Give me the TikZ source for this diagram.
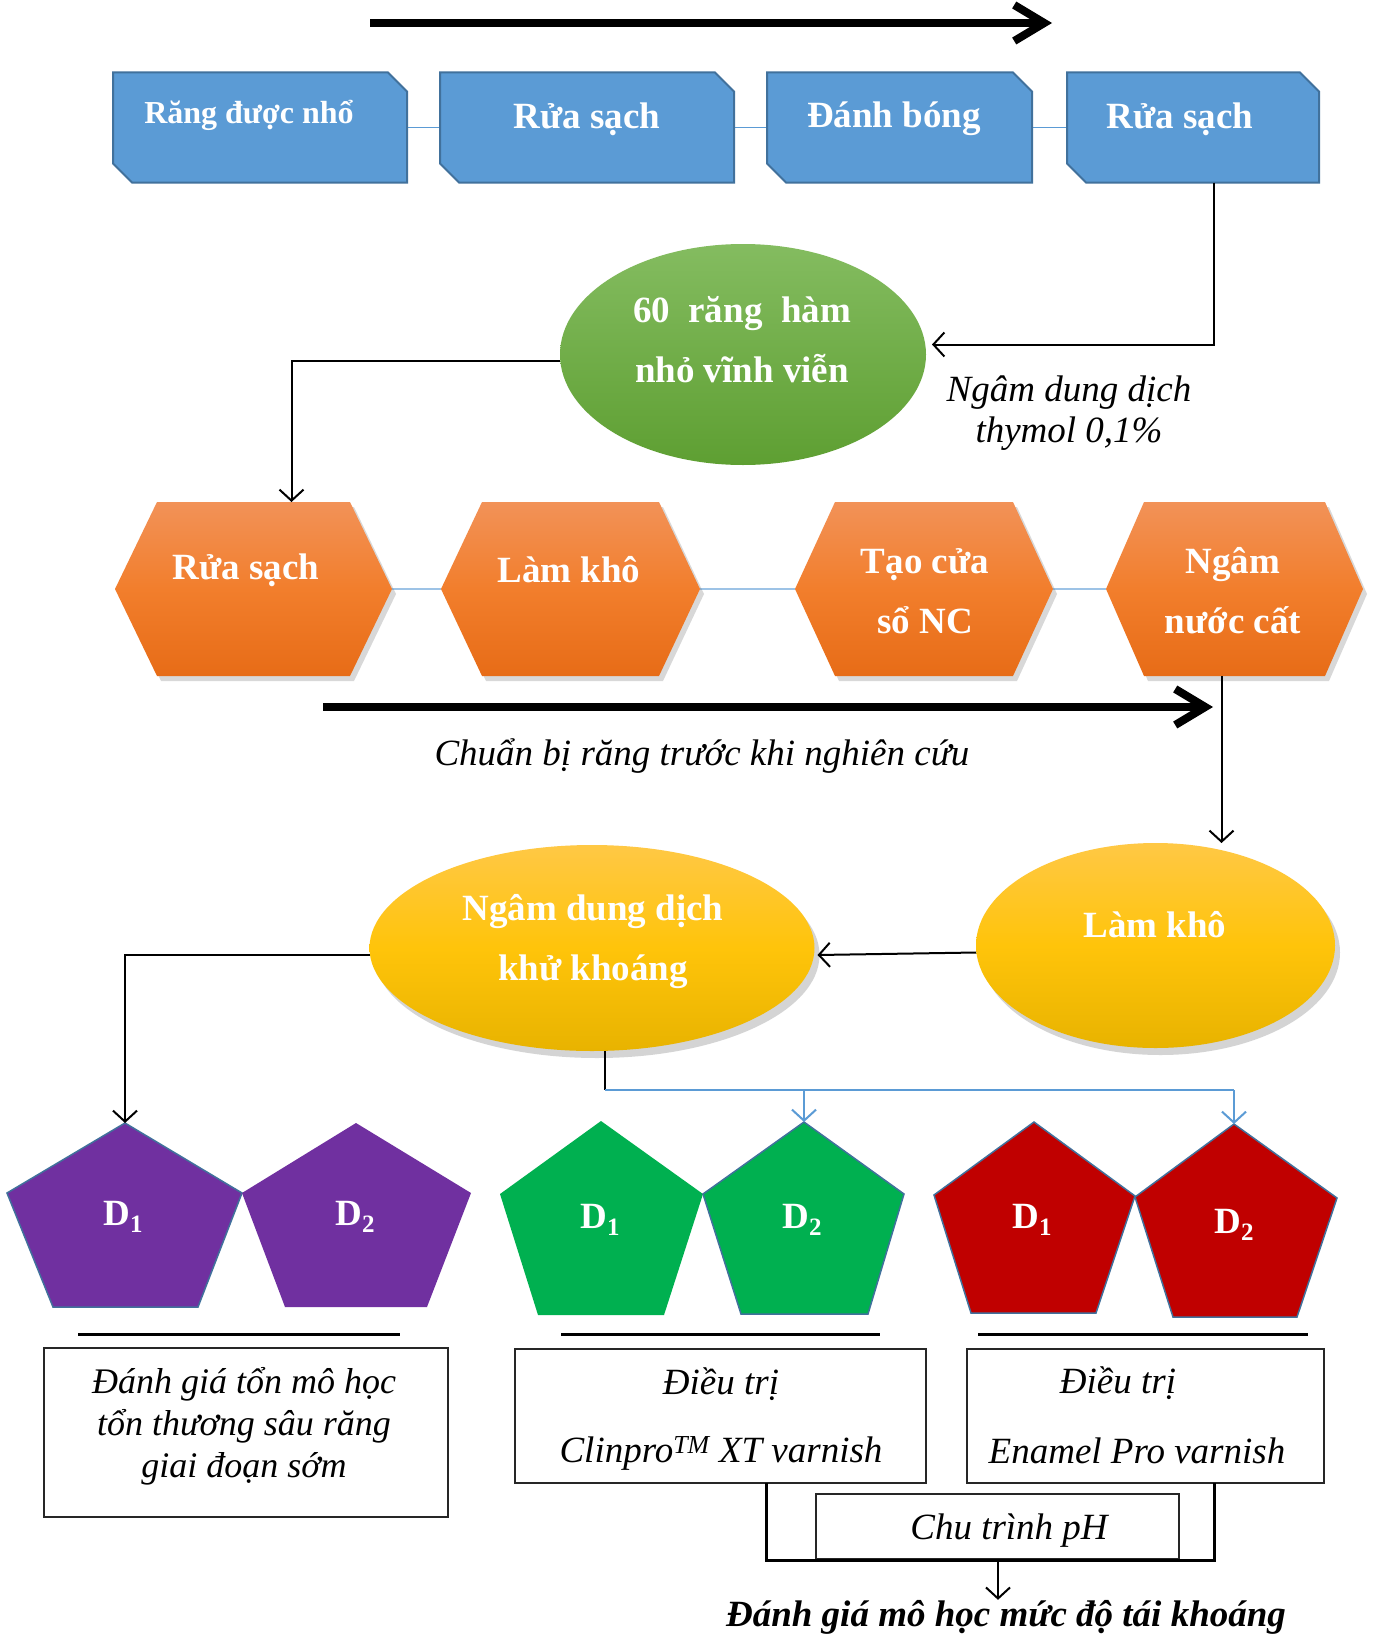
\documentclass[tikz,border=0pt]{standalone}
\usepackage{fontspec}
\setmainfont{Liberation Serif}
\usetikzlibrary{arrows.meta,shapes.geometric,shadows,calc}
\definecolor{boxblue}{HTML}{5B9BD5}
\definecolor{edgeblue}{HTML}{41719C}
\definecolor{lineblue}{HTML}{5B9BD5}
\definecolor{hexline}{HTML}{9DC3E6}
\definecolor{gtop}{HTML}{84BC60}
\definecolor{gbot}{HTML}{5E9F32}
\definecolor{otop}{HTML}{F29258}
\definecolor{omid}{HTML}{F27E2C}
\definecolor{obot}{HTML}{E76C17}
\definecolor{ytop}{HTML}{FFC845}
\definecolor{ymid}{HTML}{FFC40A}
\definecolor{ybot}{HTML}{E8B300}
\definecolor{purp}{HTML}{7030A0}
\definecolor{grn}{HTML}{00B050}
\definecolor{rd}{HTML}{C00000}
\newcommand\snipshape[1]{\path[snipstyle] (#1.north west) -- ($(#1.north east)+(-19,0)$) -- ($(#1.north east)+(0,19)$) -- (#1.south east) -- ($(#1.south west)+(19,0)$) -- ($(#1.south west)+(0,-19)$) -- cycle;}
\newcommand\hexshape[2]{\path[hexstyle] (#1.west) -- ($(#1.north west)+(#2,0)$) -- ($(#1.north east)+(-#2,0)$) -- (#1.east) -- ($(#1.south east)+(-#2,0)$) -- ($(#1.south west)+(#2,0)$) -- cycle;}
\newcommand\dsub[1]{\raisebox{-7pt}{\fontsize{25}{25}\selectfont #1}}
\begin{document}
\begin{tikzpicture}[x=1pt,y=-1pt,
  frame/.style={rectangle,inner sep=0pt,outer sep=0pt,draw=none},
  snipstyle/.style={fill=boxblue,draw=edgeblue,line width=2pt},
  hexstyle/.style={top color=otop,bottom color=obot,middle color=omid,
     drop shadow={shadow xshift=4pt,shadow yshift=-5pt,opacity=0.25,fill=black!60}},
  wtxt/.style={text=white,font=\fontsize{37}{60}\selectfont\bfseries,align=center,inner sep=0pt},
  itxt/.style={font=\fontsize{37}{41}\selectfont\itshape,align=center,inner sep=0pt},
  dlab/.style={text=white,font=\fontsize{37}{40}\selectfont\bfseries,inner sep=0pt},
  conn/.style={draw=black,line width=2pt,-{Straight Barb[length=11pt,width=24pt]}},
  bconn/.style={draw=lineblue,line width=2pt,-{Straight Barb[length=11pt,width=24pt]}},
  bigarrow/.style={line width=8pt,-{Straight Barb[length=30pt,width=36pt]}},
  link/.style={draw=lineblue,line width=1.5pt},
  hlink/.style={draw=hexline,line width=2pt},
  tbox/.style={rectangle,draw=black!85,line width=1.5pt,inner sep=0pt,outer sep=0pt},
  sepline/.style={line width=3pt},
  ysh/.style={drop shadow={shadow xshift=5pt,shadow yshift=-7pt,opacity=0.28,fill=black!60}}
]
\useasboundingbox (0,0) rectangle (1374,1635);
\fill[white] (0,0) rectangle (1374,1635);

% top thick arrow
\coordinate (ta1) at (370,23);
\coordinate (ta2) at (1052,23);
\draw[bigarrow] (ta1) -- (ta2);

% blue snip boxes
\node[frame,minimum width=294,minimum height=110] (b1) at (260,127.5) {};
\node[frame,minimum width=294,minimum height=110] (b2) at (587,127.5) {};
\node[frame,minimum width=265,minimum height=110] (b3) at (899.5,127.5) {};
\node[frame,minimum width=252,minimum height=110] (b4) at (1193,127.5) {};
\draw[link] (b1.east) -- (b2.west);
\draw[link] (b2.east) -- (b3.west);
\draw[link] (b3.east) -- (b4.west);
\snipshape{b1}\snipshape{b2}\snipshape{b3}\snipshape{b4}
\node[wtxt,font=\fontsize{32}{40}\selectfont\bfseries] (bt1) at (249,115) {Răng được nhổ};
\node[wtxt] (bt2) at (587,119) {Rửa sạch};
\node[wtxt] (bt3) at (894,119) {Đánh bóng};
\node[wtxt] (bt4) at (1180,119) {Rửa sạch};

% green ellipse
\node[ellipse,minimum width=366,minimum height=221,inner sep=0pt,outer sep=0pt,
      top color=gtop,bottom color=gbot] (g) at (743,354.5) {};
\node[wtxt] (gt) at (742,340) {60\hspace{0.5em}răng\hspace{0.5em}hàm\\nhỏ vĩnh viễn};
\coordinate (c1) at ($(b4.south)+(21,0)$);
\draw[conn] (c1) |- ($(g.east)+(6,-10)$);
\node[itxt] (lab1) at (1069,413) {Ngâm dung dịch\\thymol 0,1\%};

% hexagons
\node[frame,minimum width=277,minimum height=174] (h1) at (253.5,589) {};
\node[frame,minimum width=259,minimum height=174] (h2) at (570.5,589) {};
\node[frame,minimum width=258,minimum height=174] (h3) at (924,589) {};
\node[frame,minimum width=257,minimum height=174] (h4) at (1234.5,589) {};
\draw[hlink] (h1.east) -- (h2.west);
\draw[hlink] (h2.east) -- (h3.west);
\draw[hlink] (h3.east) -- (h4.west);
\hexshape{h1}{42}\hexshape{h2}{41}\hexshape{h3}{40}\hexshape{h4}{38}
\node[wtxt] (ht1) at (246,570) {Rửa sạch};
\node[wtxt] (ht2) at (569,570) {Làm khô};
\node[wtxt] (ht3) at (925,591) {Tạo cửa\\sổ NC};
\node[wtxt] (ht4) at (1233,591) {Ngâm\\nước cất};
\draw[conn] ($(g.west)+(0,6)$) -| ($(h1.north)+(38,0)$);

% second thick arrow
\coordinate (ma1) at (323,707);
\coordinate (ma2) at (1213,707);
\draw[bigarrow] (ma1) -- (ma2);
\node[itxt] (lab2) at (702,756) {Chuẩn bị răng trước khi nghiên cứu};

% yellow ellipses
\node[ellipse,minimum width=445,minimum height=206,inner sep=0pt,outer sep=0pt,
      top color=ytop,bottom color=ybot,middle color=ymid,ysh] (nd) at (592,948) {};
\node[ellipse,minimum width=359,minimum height=205,inner sep=0pt,outer sep=0pt,
      top color=ytop,bottom color=ybot,middle color=ymid,ysh] (lk) at (1155.5,945.5) {};
\node[wtxt] (ndt) at (593,942) {Ngâm dung dịch\\khử khoáng};
\node[wtxt] (lkt) at (1155,925) {Làm khô};
\coordinate (c4) at ($(h4.south)+(-13,0)$);
\draw[conn] (c4) -- (c4 |- lk.north);
\draw[conn] ($(lk.west)+(0,7)$) -- ($(nd.east)+(3,7)$);

% pentagons
\filldraw[fill=purp,draw=edgeblue,line width=1.5pt] (125,1123) coordinate (pa) -- (242,1193) -- (198,1307) -- (53,1307) -- (7,1193) -- cycle;
\fill[purp] (356,1123) coordinate (pb) -- (471,1193) -- (427,1307) -- (285,1307) -- (242,1193) -- cycle;
\fill[grn] (601,1121) coordinate (pc) -- (703,1194) -- (664,1315) -- (538,1315) -- (500,1194) -- cycle;
\filldraw[fill=grn,draw=edgeblue,line width=1.5pt] (804,1122) coordinate (pd) -- (904,1194) -- (868,1314) -- (741,1314) -- (703,1194) -- cycle;
\filldraw[fill=rd,draw=edgeblue,line width=1.5pt] (1034,1122) coordinate (pe) -- (1135,1196) -- (1096,1313) -- (971,1313) -- (934,1195) -- cycle;
\filldraw[fill=rd,draw=edgeblue,line width=1.5pt] (1234,1124) coordinate (pf) -- (1337,1198) -- (1297,1317) -- (1173,1317) -- (1135,1197) -- cycle;
\node[dlab] (d1) at (123,1217) {D\dsub{1}};
\node[dlab] (d2) at (355,1217) {D\dsub{2}};
\node[dlab] (d3) at (600,1220) {D\dsub{1}};
\node[dlab] (d4) at (802,1220) {D\dsub{2}};
\node[dlab] (d5) at (1032,1220) {D\dsub{1}};
\node[dlab] (d6) at (1234,1225) {D\dsub{2}};

% connectors from the demineralising ellipse
\draw[conn] ($(nd.west)+(0,7)$) -| (pa);
\coordinate (c5) at ($(nd.south)+(13,0)$);
\coordinate (c6) at ($(nd.south)+(13,39)$);
\draw[line width=2pt] (c5) -- (c6);
\draw[link,line width=2pt] (c6) -- (c6 -| pf);
\draw[bconn] (c6 -| pd) -- (pd);
\draw[bconn] (c6 -| pf) -- (pf);

% separator lines
\draw[sepline] (78,1334) -- (400,1334);
\draw[sepline] (561,1334) -- (880,1334);
\draw[sepline] (978,1334) -- (1308,1334);

% text boxes
\node[tbox,minimum width=404,minimum height=169] (bl) at (246,1432.5) {};
\node[tbox,minimum width=411,minimum height=134] (bm) at (720.5,1416) {};
\node[tbox,minimum width=357,minimum height=134] (br) at (1145.5,1416) {};
\node[tbox,minimum width=363,minimum height=65] (bc) at (997.5,1526.5) {};
\node[itxt,font=\fontsize{36}{42}\selectfont\itshape] (blt) at (244,1426) {Đánh giá tổn mô học\\tổn thương sâu răng\\giai đoạn sớm};
\node[itxt] (bmt1) at (721,1384) {Điều trị};
\node[itxt] (bmt2) at (721,1453) {Clinpro\textsuperscript{TM} XT varnish};
\node[itxt] (brt1) at (1118,1383) {Điều trị};
\node[itxt] (brt2) at (1137,1451) {Enamel Pro varnish};
\node[itxt] (bct) at (1009,1531) {Chu trình pH};

% bracket and final arrow
\coordinate (k1) at (766,1483);
\coordinate (k2) at (1214,1483);
\coordinate (k3) at (766,1560);
\draw[sepline] (k1) -- (k3) -- (k3 -| k2) -- (k2);
\node[font=\fontsize{37}{40}\selectfont\bfseries\itshape,inner sep=0pt] (fin) at (1006,1617) {Đánh giá mô học mức độ tái khoáng};
\coordinate (k4) at (998,1560);
\draw[conn] (k4) -- (k4 |- fin.north);
\end{tikzpicture}
\end{document}
